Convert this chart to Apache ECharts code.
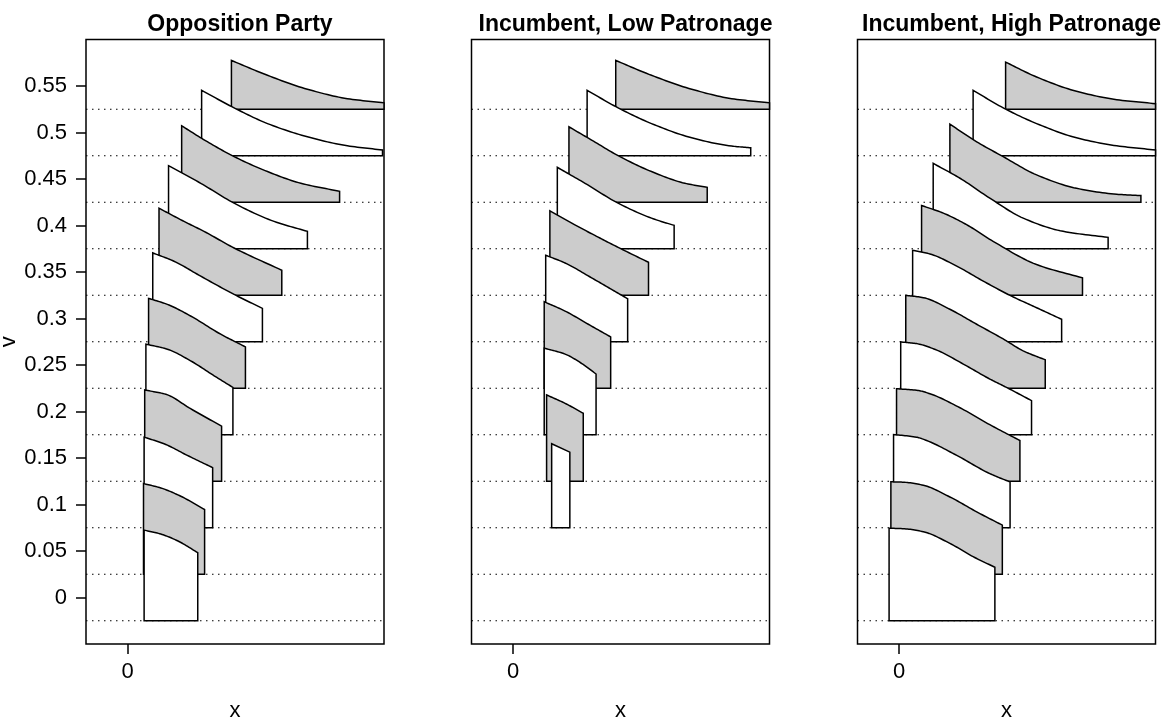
<!DOCTYPE html>
<html><head><meta charset="utf-8">
<script src="https://cdn.jsdelivr.net/npm/echarts@6/dist/echarts.min.js"></script>
<style>html,body{margin:0;padding:0;background:#fff}#c{width:1168px;height:721px}</style>
</head><body><div id="c"></div>
<script>
const panelTitles = ['Opposition Party', 'Incumbent, Low Patronage', 'Incumbent, High Patronage'];
const baselines = [-0.025, 0.025, 0.075, 0.125, 0.175, 0.225, 0.275, 0.325, 0.375, 0.425, 0.475, 0.525];
const yTicks = [0, 0.05, 0.1, 0.15, 0.2, 0.25, 0.3, 0.35, 0.4, 0.45, 0.5, 0.55];
const xTicks = [0];

// Opposition Party: x positions of each ridge (k = 0..11) and the curve top values
const oppX = [
  [0.055, 0.111, 0.167, 0.235],
  [0.053, 0.111, 0.178, 0.258],
  [0.055, 0.122, 0.200, 0.285],
  [0.057, 0.128, 0.211, 0.315],
  [0.061, 0.133, 0.211, 0.290, 0.353],
  [0.070, 0.133, 0.211, 0.312, 0.395],
  [0.084, 0.155, 0.245, 0.357, 0.452],
  [0.105, 0.189, 0.256, 0.357, 0.517],
  [0.137, 0.245, 0.357, 0.491, 0.603],
  [0.181, 0.267, 0.357, 0.469, 0.581, 0.711],
  [0.248, 0.357, 0.469, 0.603, 0.737, 0.855],
  [0.348, 0.469, 0.603, 0.737, 0.860]
];
const oppTop = [
  [0.0725, 0.0682, 0.0610, 0.0482],
  [0.1225, 0.1178, 0.1089, 0.0946],
  [0.1724, 0.1653, 0.1528, 0.1396],
  [0.2231, 0.2185, 0.2030, 0.1842],
  [0.2724, 0.2670, 0.2545, 0.2384, 0.2259],
  [0.3216, 0.3152, 0.3027, 0.2831, 0.2695],
  [0.3705, 0.3616, 0.3455, 0.3259, 0.3109],
  [0.4186, 0.4044, 0.3937, 0.3758, 0.3519],
  [0.4643, 0.4454, 0.4240, 0.4044, 0.3937],
  [0.5072, 0.4901, 0.4741, 0.4580, 0.4454, 0.4368],
  [0.5454, 0.5265, 0.5096, 0.4954, 0.4857, 0.4812],
  [0.5775, 0.5615, 0.5465, 0.5364, 0.5319]
];

// Incumbent, Low Patronage
const lowX = [
  null,
  null,
  [0.129, 0.190],
  [0.112, 0.174, 0.235],
  [0.104, 0.174, 0.230, 0.278],
  [0.104, 0.174, 0.252, 0.327],
  [0.109, 0.174, 0.263, 0.330, 0.384],
  [0.123, 0.207, 0.274, 0.352, 0.454],
  [0.148, 0.241, 0.352, 0.464, 0.540],
  [0.187, 0.263, 0.352, 0.464, 0.576, 0.651],
  [0.248, 0.352, 0.464, 0.599, 0.733, 0.797],
  [0.344, 0.464, 0.599, 0.733, 0.860]
];
const lowTop = [
  null,
  null,
  [0.1653, 0.1563],
  [0.2178, 0.2088, 0.1981],
  [0.2681, 0.2617, 0.2516, 0.2403],
  [0.3180, 0.3080, 0.2938, 0.2802],
  [0.3680, 0.3597, 0.3437, 0.3313, 0.3212],
  [0.4157, 0.4007, 0.3893, 0.3765, 0.3604],
  [0.4625, 0.4454, 0.4240, 0.4079, 0.4001],
  [0.5061, 0.4919, 0.4751, 0.4580, 0.4454, 0.4411],
  [0.5454, 0.5265, 0.5096, 0.4943, 0.4854, 0.4836],
  [0.5775, 0.5615, 0.5465, 0.5364, 0.5319]
];

// Incumbent, High Patronage
const highX = [
  [-0.034, 0.013, 0.081, 0.170, 0.248, 0.321],
  [-0.028, 0.013, 0.081, 0.170, 0.260, 0.346],
  [-0.019, 0.058, 0.092, 0.193, 0.304, 0.372],
  [-0.009, 0.063, 0.103, 0.204, 0.304, 0.405],
  [0.005, 0.058, 0.126, 0.215, 0.304, 0.360, 0.444],
  [0.022, 0.081, 0.170, 0.260, 0.349, 0.416, 0.490],
  [0.045, 0.103, 0.193, 0.282, 0.372, 0.461, 0.545],
  [0.075, 0.148, 0.226, 0.315, 0.461, 0.615],
  [0.114, 0.204, 0.304, 0.416, 0.550, 0.701],
  [0.170, 0.260, 0.349, 0.461, 0.595, 0.730, 0.811],
  [0.248, 0.349, 0.461, 0.595, 0.730, 0.860],
  [0.357, 0.461, 0.595, 0.730, 0.860]
];
const highTop = [
  [0.0745, 0.0740, 0.0707, 0.0582, 0.0439, 0.0325],
  [0.1244, 0.1240, 0.1207, 0.1081, 0.0921, 0.0778],
  [0.1752, 0.1724, 0.1688, 0.1528, 0.1332, 0.1242],
  [0.2245, 0.2226, 0.2191, 0.2040, 0.1858, 0.1688],
  [0.2748, 0.2730, 0.2660, 0.2510, 0.2349, 0.2259, 0.2117],
  [0.3249, 0.3224, 0.3099, 0.2938, 0.2780, 0.2652, 0.2556],
  [0.3733, 0.3694, 0.3563, 0.3402, 0.3248, 0.3116, 0.2991],
  [0.4215, 0.4133, 0.4009, 0.3830, 0.3580, 0.3437],
  [0.4668, 0.4508, 0.4294, 0.4079, 0.3937, 0.3873],
  [0.5090, 0.4900, 0.4740, 0.4544, 0.4400, 0.4336, 0.4322],
  [0.5454, 0.5265, 0.5096, 0.4943, 0.4857, 0.4812],
  [0.5757, 0.5597, 0.5443, 0.5353, 0.5310]
];

const panelX = [oppX, lowX, highX];
const panelTop = [oppTop, lowTop, highTop];

const X_MIN = -0.14, X_MAX = 0.86, Y_MIN = -0.05, Y_MAX = 0.6;
const gridLefts = [86, 471.5, 857.5];
const GRID_TOP = 39.5, GRID_W = 298, GRID_H = 604.5;
const FONT = 'Liberation Sans, Arial, Helvetica, sans-serif';
const GRAY = '#cccccc';

// monotone cubic (Fritsch-Carlson) drawing of a curve through pixel points
function monotone(pts) {
  const n = pts.length;
  if (n < 3) return pts.slice();
  const dx = [], m = [], d = [];
  for (let i = 0; i < n - 1; i++) {
    dx.push(pts[i + 1][0] - pts[i][0]);
    d.push((pts[i + 1][1] - pts[i][1]) / dx[i]);
  }
  m.push(d[0]);
  for (let i = 1; i < n - 1; i++) {
    if (d[i - 1] * d[i] <= 0) m.push(0);
    else {
      const w1 = 2 * dx[i] + dx[i - 1], w2 = dx[i] + 2 * dx[i - 1];
      m.push((w1 + w2) / (w1 / d[i - 1] + w2 / d[i]));
    }
  }
  m.push(d[n - 2]);
  const out = [pts[0]];
  for (let i = 0; i < n - 1; i++) {
    const h = dx[i], steps = 14;
    for (let s = 1; s <= steps; s++) {
      const t = s / steps, t2 = t * t, t3 = t2 * t;
      const h00 = 2 * t3 - 3 * t2 + 1, h10 = t3 - 2 * t2 + t, h01 = -2 * t3 + 3 * t2, h11 = t3 - t2;
      out.push([pts[i][0] + t * h,
        h00 * pts[i][1] + h10 * h * m[i] + h01 * pts[i + 1][1] + h11 * h * m[i + 1]]);
    }
  }
  return out;
}

const grids = [], xAxes = [], yAxes = [], series = [], titles = [];
for (let i = 0; i < 3; i++) {
  grids.push({ left: gridLefts[i], top: GRID_TOP, width: GRID_W, height: GRID_H, show: true,
    containLabel: false, outerBoundsMode: 'none',
    borderColor: '#000', borderWidth: 1.5, backgroundColor: 'transparent' });
  titles.push({ text: panelTitles[i], left: gridLefts[i] + GRID_W / 2, top: 8, textAlign: 'center',
    textStyle: { fontFamily: FONT, fontSize: 23, fontWeight: 'bold', color: '#000' } });
  xAxes.push({ gridIndex: i, type: 'value', min: X_MIN, max: X_MAX, position: 'bottom',
    axisLine: { show: false, onZero: false }, splitLine: { show: false },
    axisTick: { show: true, customValues: xTicks, length: 10, lineStyle: { color: '#000', width: 1.5 } },
    axisLabel: { show: true, customValues: xTicks, margin: 17, color: '#000', fontSize: 22, fontFamily: FONT,
      formatter: v => String(+(+v).toFixed(2)) },
    name: 'x', nameLocation: 'middle', nameGap: 56,
    nameTextStyle: { fontFamily: FONT, fontSize: 22, color: '#000' } });
  yAxes.push({ gridIndex: i, type: 'value', min: Y_MIN, max: Y_MAX, position: 'left',
    axisLine: { show: false, onZero: false }, splitLine: { show: false },
    axisTick: { show: i === 0, customValues: yTicks, length: 10, lineStyle: { color: '#000', width: 1.5 } },
    axisLabel: { show: i === 0, customValues: yTicks, margin: 19, color: '#000', fontSize: 22, fontFamily: FONT,
      formatter: v => String(+(+v).toFixed(2)) },
    name: i === 0 ? 'v' : '', nameLocation: 'middle', nameGap: 53,
    nameTextStyle: { fontFamily: FONT, fontSize: 22, color: '#000' } });

  // dotted baselines
  series.push({ type: 'custom', xAxisIndex: i, yAxisIndex: i, z: 1, silent: true, animation: false,
    data: baselines.map((b, k) => [k, b]),
    renderItem: (params, api) => {
      const b = api.value(1);
      const p0 = api.coord([X_MIN, b]), p1 = api.coord([X_MAX, b]);
      return { type: 'line', shape: { x1: p0[0], y1: p0[1], x2: p1[0], y2: p1[1] },
        style: { stroke: '#000', lineWidth: 1.2, lineDash: [1.5, 4.5] } };
    } });

  // ridges, top ridge first so lower ridges overlap it
  const xs = panelX[i], tops = panelTop[i];
  const order = [];
  for (let k = baselines.length - 1; k >= 0; k--) if (xs[k]) order.push([k, baselines[k]]);
  series.push({ type: 'custom', xAxisIndex: i, yAxisIndex: i, z: 2, silent: true, animation: false,
    data: order,
    renderItem: (params, api) => {
      const k = api.value(0), base = api.value(1);
      const X = xs[k], T = tops[k];
      const curve = monotone(X.map((x, j) => api.coord([x, T[j]])));
      const pts = [api.coord([X[0], base])].concat(curve, [api.coord([X[X.length - 1], base])]);
      return { type: 'polygon', shape: { points: pts },
        style: { fill: k % 2 ? GRAY : '#ffffff', stroke: '#000', lineWidth: 1.5, lineJoin: 'miter' } };
    } });
}

const chart = echarts.init(document.getElementById('c'), null, { renderer: 'canvas' });
chart.setOption({
  animation: false,
  backgroundColor: '#ffffff',
  title: titles,
  grid: grids,
  xAxis: xAxes,
  yAxis: yAxes,
  series: series
});
</script>
</body></html>
